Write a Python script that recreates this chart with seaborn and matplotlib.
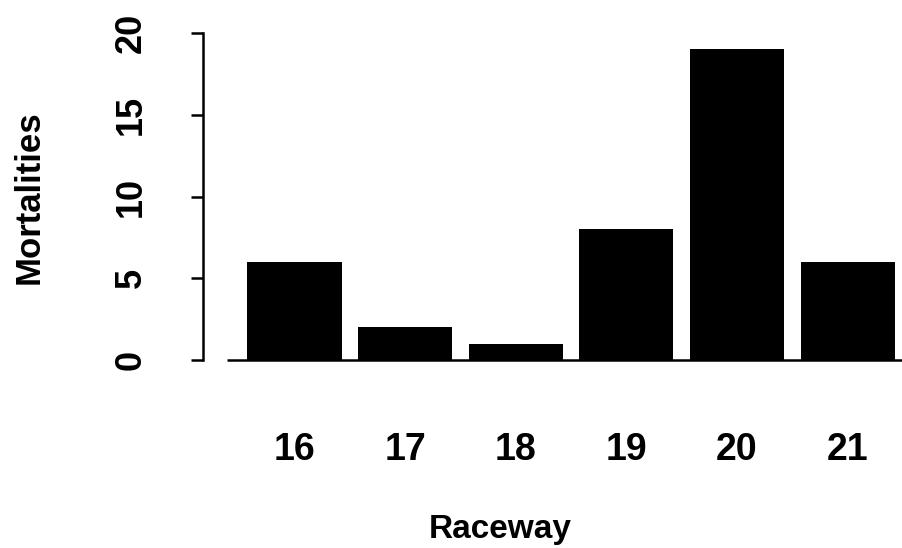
import matplotlib
matplotlib.use("Agg")
import matplotlib.pyplot as plt
import seaborn as sns
import pandas as pd

raceway = ["16", "17", "18", "19", "20", "21"]
mortalities = [6, 2, 1, 8, 19, 6]
yticks = [0, 5, 10, 15, 20]

sns.set_style("white")
plt.rcParams["font.family"] = ["Liberation Sans", "DejaVu Sans"]
plt.rcParams["font.weight"] = "bold"
for k in ["text.color", "axes.labelcolor", "xtick.color", "ytick.color", "axes.edgecolor"]:
    plt.rcParams[k] = "black"

fig = plt.figure(figsize=(9.03, 5.48), dpi=100)
ax = fig.add_axes([203 / 903, (548 - 360) / 548, 700 / 903, 327 / 548])

df = pd.DataFrame({"Raceway": raceway, "Mortalities": mortalities})
sns.barplot(data=df, x="Raceway", y="Mortalities", color="black", saturation=1,
            width=0.85, edgecolor="black", linewidth=0, ax=ax)

ax.set_xlim(-0.827, 5.50)
ax.set_ylim(0, 20)
for s in ["top", "right", "bottom"]:
    ax.spines[s].set_visible(False)
ax.spines["left"].set_linewidth(1.8)
ax.spines["left"].set_color("black")
ax.hlines(0, -0.61, 5.6, color="black", lw=1.8, clip_on=False, zorder=5)

ax.set_yticks(yticks)
ax.set_yticklabels([str(v) for v in yticks], rotation=90, va="center",
                   fontsize=26, fontweight="bold")
ax.tick_params(axis="y", length=9, width=1.8, pad=30, color="black",
               left=True, direction="out")
ax.tick_params(axis="x", length=0, pad=52, labelsize=27)
for t in ax.get_xticklabels():
    t.set_fontweight("bold")

ax.set_ylabel("Mortalities", fontsize=25, fontweight="bold")
ax.yaxis.label.set_ha("center")
ax.yaxis.label.set_va("center")
ax.yaxis.set_label_coords((29 - 203) / 700, 0.497)
ax.set_xlabel("Raceway", fontsize=24, fontweight="bold")
ax.xaxis.label.set_va("baseline")
ax.xaxis.set_label_coords((500 - 203) / 700, (360 - 538) / 327)

fig.savefig("out.png", dpi=100)
